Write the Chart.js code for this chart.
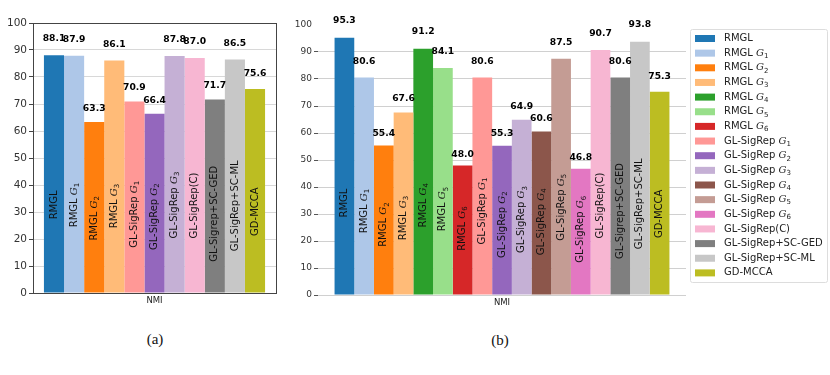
<!DOCTYPE html>
<html>
<head>
<meta charset="utf-8">
<script src="https://cdn.jsdelivr.net/npm/chart.js@4.4.1/dist/chart.umd.min.js"></script>
<style>
    body { margin: 0; background: #fff; width: 830px; height: 375px; position: relative; overflow: hidden; }
    canvas { position: absolute; top: 0; }
    #chartA { left: 0; }
    #chartB { left: 290px; }
    .cap { position: absolute; font-family: "Liberation Serif", "DejaVu Serif", serif; font-size: 15px; color: #111; transform: translateX(-50%); }
</style>
</head>
<body>
<canvas id="chartA" width="282" height="312"></canvas>
<canvas id="chartB" width="540" height="312"></canvas>
<div class="cap" style="left:155px; top:331px">(a)</div>
<div class="cap" style="left:500px; top:332px">(b)</div>
<script>
// "G_n" at the end of a name is drawn as a script G with subscript n
const category = ['NMI'];

const barNamesA = ['RMGL', 'RMGL G_1', 'RMGL G_2', 'RMGL G_3', 'GL-SigRep G_1', 'GL-SigRep G_2',
    'GL-SigRep G_3', 'GL-SigRep(C)', 'GL-Sigrep+SC-GED', 'GL-SigRep+SC-ML', 'GD-MCCA'];
const valuesA = [88.1, 87.9, 63.3, 86.1, 70.9, 66.4, 87.8, 87.0, 71.7, 86.5, 75.6];
const colorsA = ['#1f77b4', '#aec7e8', '#ff7f0e', '#ffbb78', '#ff9896', '#9467bd',
    '#c5b0d5', '#f7b6d2', '#7f7f7f', '#c7c7c7', '#bcbd22'];

const barNamesB = ['RMGL', 'RMGL G_1', 'RMGL G_2', 'RMGL G_3', 'RMGL G_4', 'RMGL G_5', 'RMGL G_6',
    'GL-SigRep G_1', 'GL-SigRep G_2', 'GL-SigRep G_3', 'GL-SigRep G_4', 'GL-SigRep G_5', 'GL-SigRep G_6',
    'GL-SigRep(C)', 'GL-Sigrep+SC-GED', 'GL-SigRep+SC-ML', 'GD-MCCA'];
const legendNames = ['RMGL', 'RMGL G_1', 'RMGL G_2', 'RMGL G_3', 'RMGL G_4', 'RMGL G_5', 'RMGL G_6',
    'GL-SigRep G_1', 'GL-SigRep G_2', 'GL-SigRep G_3', 'GL-SigRep G_4', 'GL-SigRep G_5', 'GL-SigRep G_6',
    'GL-SigRep(C)', 'GL-SigRep+SC-GED', 'GL-SigRep+SC-ML', 'GD-MCCA'];
const valuesB = [95.3, 80.6, 55.4, 67.6, 91.2, 84.1, 48.0, 80.6, 55.3, 64.9, 60.6, 87.5, 46.8, 90.7, 80.6, 93.8, 75.3];
const colorsB = ['#1f77b4', '#aec7e8', '#ff7f0e', '#ffbb78', '#2ca02c', '#98df8a', '#d62728',
    '#ff9896', '#9467bd', '#c5b0d5', '#8c564b', '#c49c94', '#e377c2', '#f7b6d2', '#7f7f7f', '#c7c7c7', '#bcbd22'];

const yTicks = [0, 10, 20, 30, 40, 50, 60, 70, 80, 90, 100];

Chart.defaults.font.family = '"DejaVu Sans", sans-serif';

function splitName(name) {
    const m = name.match(/^(.*) G_(\d)$/);
    return m ? { base: m[1] + ' ', sub: m[2] } : { base: name, sub: null };
}

function nameWidth(ctx, name, size) {
    const p = splitName(name);
    ctx.font = size + 'px "DejaVu Sans"';
    let w = ctx.measureText(p.base).width;
    if (p.sub) {
        ctx.font = 'italic ' + size + 'px "DejaVu Serif"';
        w += ctx.measureText('G').width;
        ctx.font = (size * 0.7) + 'px "DejaVu Sans"';
        w += ctx.measureText(p.sub).width;
    }
    return w;
}

// left aligned, vertically middle
function drawName(ctx, name, x, y, size) {
    const p = splitName(name);
    ctx.textAlign = 'left';
    ctx.textBaseline = 'middle';
    ctx.font = size + 'px "DejaVu Sans"';
    ctx.fillText(p.base, x, y);
    x += ctx.measureText(p.base).width;
    if (p.sub) {
        ctx.font = 'italic ' + size + 'px "DejaVu Serif"';
        ctx.fillText('G', x, y);
        x += ctx.measureText('G').width;
        ctx.font = (size * 0.7) + 'px "DejaVu Sans"';
        ctx.fillText(p.sub, x, y + size * 0.3);
    }
}

const barText = {
    id: 'barText',
    afterDraw(chart) {
        const ctx = chart.ctx;
        const yScale = chart.scales.y;
        ctx.save();
        chart.data.datasets.forEach((ds, i) => {
            const el = chart.getDatasetMeta(i).data[0];
            const v = ds.data[0];
            // value on top
            ctx.fillStyle = '#000';
            ctx.font = 'bold 9.2px "DejaVu Sans"';
            ctx.textAlign = 'center';
            ctx.textBaseline = 'bottom';
            ctx.fillText(v.toFixed(1), el.x, yScale.getPixelForValue(v * 1.05));
            // rotated name inside the bar
            const cy = yScale.getPixelForValue(15 + 0.2 * v);
            ctx.save();
            ctx.translate(el.x, cy);
            ctx.rotate(-Math.PI / 2);
            ctx.fillStyle = '#111';
            drawName(ctx, ds.barName, -nameWidth(ctx, ds.barName, 10) / 2, 0, 10);
            ctx.restore();
        });
        ctx.restore();
    }
};

const frame = {
    id: 'frame',
    afterDraw(chart) {
        const a = chart.chartArea;
        const ctx = chart.ctx;
        ctx.save();
        ctx.strokeStyle = '#444';
        ctx.lineWidth = 1;
        ctx.strokeRect(Math.round(a.left) + 0.5, Math.round(a.top) + 0.5,
            Math.round(a.right - a.left), Math.round(a.bottom - a.top));
        ctx.restore();
    }
};

const sideLegend = {
    id: 'sideLegend',
    afterDraw(chart) {
        const ctx = chart.ctx;
        ctx.save();
        ctx.fillStyle = 'rgba(255,255,255,0.85)';
        ctx.strokeStyle = '#dddddd';
        ctx.lineWidth = 1;
        ctx.beginPath();
        ctx.roundRect(400.5, 29.5, 137, 253, 2);
        ctx.fill();
        ctx.stroke();
        chart.data.datasets.forEach((ds, i) => {
            const y = 38.5 + i * 14.65;
            ctx.fillStyle = ds.backgroundColor;
            ctx.fillRect(405, y - 3.5, 20, 7);
            ctx.fillStyle = '#222';
            drawName(ctx, ds.label, 434, y, 10);
        });
        ctx.restore();
    }
};

function makeDatasets(names, barNames, values, colors) {
    return values.map((v, i) => ({
        label: names[i],
        barName: barNames[i],
        data: [v],
        backgroundColor: colors[i],
        borderWidth: 0,
        categoryPercentage: 0.91,
        barPercentage: 1
    }));
}

new Chart(
    document.getElementById('chartA'),
    {
        type: 'bar',
        data: {
            labels: category,
            datasets: makeDatasets(barNamesA, barNamesA, valuesA, colorsA)
        },
        options: {
            responsive: false,
            animation: false,
            layout: { padding: { top: 23, right: 6, left: 0, bottom: 0 } },
            plugins: {
                legend: { display: false },
                tooltip: { enabled: false }
            },
            scales: {
                x: {
                    grid: { display: false, drawTicks: false },
                    border: { display: true, color: '#444' },
                    ticks: { font: { size: 8.5 }, color: '#222', padding: 3 },
                    afterFit: s => { s.height = 19; }
                },
                y: {
                    min: 0,
                    max: 100,
                    z: 1,
                    afterBuildTicks: s => { s.ticks = yTicks.map(v => ({ value: v })); },
                    ticks: { font: { size: 10.5 }, color: '#333', padding: 2 },
                    grid: { color: 'rgba(190,190,190,0.6)', tickColor: '#444', tickLength: 4 },
                    border: { display: true, color: '#444' },
                    afterFit: s => { s.width = 33; }
                }
            }
        },
        plugins: [barText, frame]
    }
);

new Chart(
    document.getElementById('chartB'),
    {
        type: 'bar',
        data: {
            labels: category,
            datasets: makeDatasets(legendNames, barNamesB, valuesB, colorsB)
        },
        options: {
            responsive: false,
            animation: false,
            layout: { padding: { top: 25, right: 144, left: 0, bottom: 0 } },
            plugins: {
                legend: { display: false },
                tooltip: { enabled: false }
            },
            scales: {
                x: {
                    grid: { display: false, drawTicks: false },
                    border: { display: false },
                    ticks: { font: { size: 8.5 }, color: '#222', padding: 3 },
                    afterFit: s => { s.height = 17; }
                },
                y: {
                    min: 0,
                    max: 100,
                    afterBuildTicks: s => { s.ticks = yTicks.map(v => ({ value: v })); },
                    ticks: { font: { size: 9 }, color: '#333', padding: 2 },
                    grid: {
                        color: c => c.tick && c.tick.value === 100 ? 'rgba(0,0,0,0)' : '#d0d0d0',
                        tickColor: c => c.tick && c.tick.value === 100 ? 'rgba(0,0,0,0)' : '#555',
                        tickLength: 4
                    },
                    border: { display: false },
                    afterFit: s => { s.width = 28; }
                }
            }
        },
        plugins: [barText, sideLegend]
    }
);
</script>
</body>
</html>
